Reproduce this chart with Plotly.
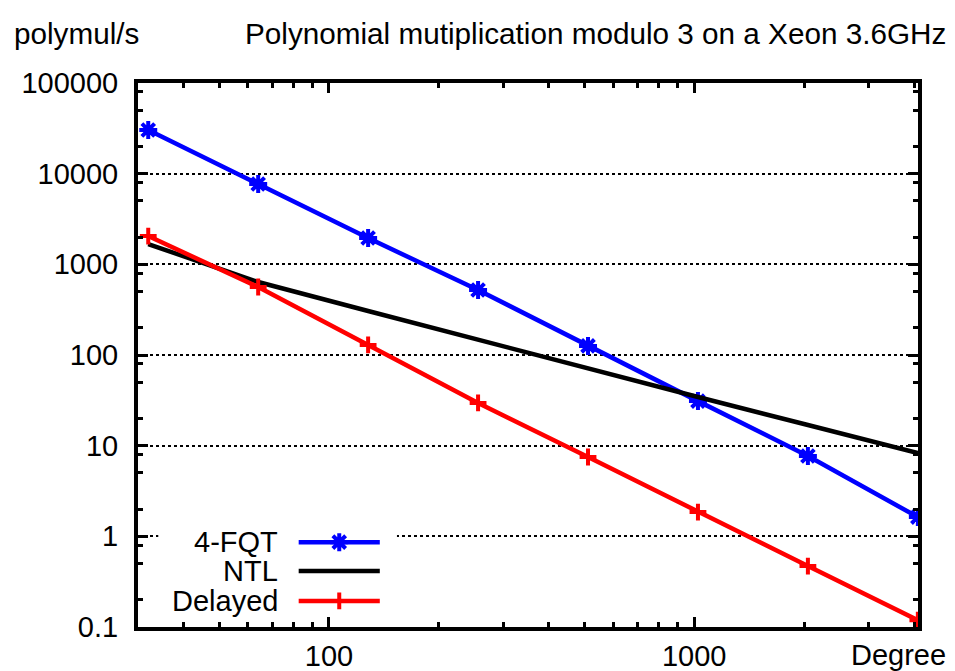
import numpy as np
import plotly.graph_objects as go

# ---- data ----
degrees = [32, 64, 128, 256, 512, 1024, 2048, 4096]
fqt = [30300, 7690, 1950, 521, 126, 31, 7.7, 1.63]
ntl = [1675, 638, 306, 147, 70, 34.4, 16.9, 8.3]
delayed = [2050, 562, 129, 29.6, 7.5, 1.85, 0.47, 0.119]

series_names = ["4-FQT", "NTL", "Delayed"]
series_colors = ["#0000ff", "#000000", "#ff0000"]

x_tick_vals = [100, 1000]
x_tick_text = ["100", "1000"]
y_tick_vals = [0.1, 1, 10, 100, 1000, 10000, 100000]
y_tick_text = ["0.1", "1", "10", "100", "1000", "10000", "100000"]

FONT = "Liberation Sans, Arial, sans-serif"
FS = 29
FS_T = 29.7
LW = 4.5

fqt_marker = dict(symbol="asterisk-open", size=15, color=series_colors[0],
                  line=dict(color=series_colors[0], width=4))
del_marker = dict(symbol="cross-thin-open", size=12, color=series_colors[2],
                  line=dict(color=series_colors[2], width=4))

fig = go.Figure()

fig.add_trace(go.Scatter(
    x=degrees, y=fqt, mode="lines+markers", name=series_names[0],
    line=dict(color=series_colors[0], width=LW), marker=fqt_marker,
    showlegend=False))
fig.add_trace(go.Scatter(
    x=degrees, y=ntl, mode="lines", name=series_names[1],
    line=dict(color=series_colors[1], width=LW), showlegend=False))
fig.add_trace(go.Scatter(
    x=degrees, y=delayed, mode="lines+markers", name=series_names[2],
    line=dict(color=series_colors[2], width=LW), marker=del_marker,
    showlegend=False))

# minor tick positions
x_minor = [v * 10 ** k for k in (1, 2, 3) for v in range(2, 10)]
y_minor = [v * 10.0 ** k for k in range(-1, 5) for v in (2, 5, 8)]

xaxis = dict(
    type="log", range=[np.log10(30), np.log10(4100)], automargin=False,
    tickmode="array", tickvals=x_tick_vals, ticktext=x_tick_text,
    ticks="inside", ticklen=10, tickwidth=3, tickcolor="black",
    showline=True, linewidth=4, linecolor="black", mirror="allticks",
    showgrid=False, zeroline=False, ticklabelstandoff=0,
    tickfont=dict(family=FONT, size=FS, color="black"),
    minor=dict(tickmode="array", tickvals=x_minor, ticks="inside",
               ticklen=5, tickwidth=3, tickcolor="black", showgrid=False),
)
yaxis = dict(
    type="log", range=[-1, 5], automargin=False,
    tickmode="array", tickvals=y_tick_vals, ticktext=y_tick_text,
    ticks="inside", ticklen=10, tickwidth=3, tickcolor="black",
    showline=True, linewidth=4, linecolor="black", mirror="allticks",
    showgrid=True, gridcolor="black", gridwidth=1.5, griddash="dot",
    zeroline=False, ticklabelstandoff=10,
    tickfont=dict(family=FONT, size=FS, color="black"),
    minor=dict(tickmode="array", tickvals=y_minor, ticks="inside",
               ticklen=5, tickwidth=3, tickcolor="black", showgrid=False),
)

# ---- hand-made gnuplot-style key (text left, sample right) ----
# drawn on an invisible overlay axis spanning 0..1 of the plot area
key_rows_y = [0.156, 0.103, 0.048]
key_text_x = 0.1825
key_line_x0, key_line_x1 = 0.206, 0.310
key_mid = (key_line_x0 + key_line_x1) / 2
key_box_x = [0.026, 0.332]
key_box_y = [0.022, 0.193]

fig.add_trace(go.Scatter(
    x=[key_box_x[0], key_box_x[1], key_box_x[1], key_box_x[0], key_box_x[0]],
    y=[key_box_y[0], key_box_y[0], key_box_y[1], key_box_y[1], key_box_y[0]],
    mode="lines", fill="toself", fillcolor="white", line=dict(width=0),
    xaxis="x2", yaxis="y2", showlegend=False, hoverinfo="skip"))

annotations = []
for name, col, yy in zip(series_names, series_colors, key_rows_y):
    fig.add_trace(go.Scatter(
        x=[key_line_x0, key_line_x1], y=[yy, yy], mode="lines",
        line=dict(color=col, width=LW), xaxis="x2", yaxis="y2",
        showlegend=False, hoverinfo="skip"))
    annotations.append(dict(xref="paper", yref="paper", x=key_text_x, y=yy,
                            text=name, showarrow=False, xanchor="right",
                            yanchor="middle",
                            font=dict(family=FONT, size=FS, color="black")))

fig.add_trace(go.Scatter(x=[key_mid], y=[key_rows_y[0]], mode="markers",
                         xaxis="x2", yaxis="y2", showlegend=False, hoverinfo="skip",
                         marker=fqt_marker))
fig.add_trace(go.Scatter(x=[key_mid], y=[key_rows_y[2]], mode="markers",
                         xaxis="x2", yaxis="y2", showlegend=False, hoverinfo="skip",
                         marker=del_marker))

annotations.append(dict(xref="paper", yref="paper", x=1.0385, y=0, yshift=-28,
                        text="Degree", showarrow=False, xanchor="right",
                        yanchor="middle", font=dict(family=FONT, size=FS, color="black")))
annotations.append(dict(xref="paper", yref="paper", x=-0.1615, y=1, yshift=50,
                        text="polymul/s", showarrow=False, xanchor="left",
                        yanchor="middle", font=dict(family=FONT, size=FS_T, color="black")))
annotations.append(dict(xref="paper", yref="paper", x=0.1346, y=1, yshift=50,
                        text="Polynomial mutiplication modulo 3 on a Xeon 3.6GHz",
                        showarrow=False, xanchor="left", yanchor="middle",
                        font=dict(family=FONT, size=FS_T, color="black")))

# page body has an 8px margin, so the figure is sized to fit the window
fig.update_layout(
    width=947, height=663,
    margin=dict(l=130, r=37, t=75, b=44),
    paper_bgcolor="white", plot_bgcolor="white",
    xaxis=xaxis, yaxis=yaxis,
    xaxis2=dict(overlaying="x", range=[0, 1], visible=False, fixedrange=True),
    yaxis2=dict(overlaying="y", range=[0, 1], visible=False, fixedrange=True),
    annotations=annotations,
    font=dict(family=FONT, size=FS, color="black"),
)

fig.write_html("out.html")
